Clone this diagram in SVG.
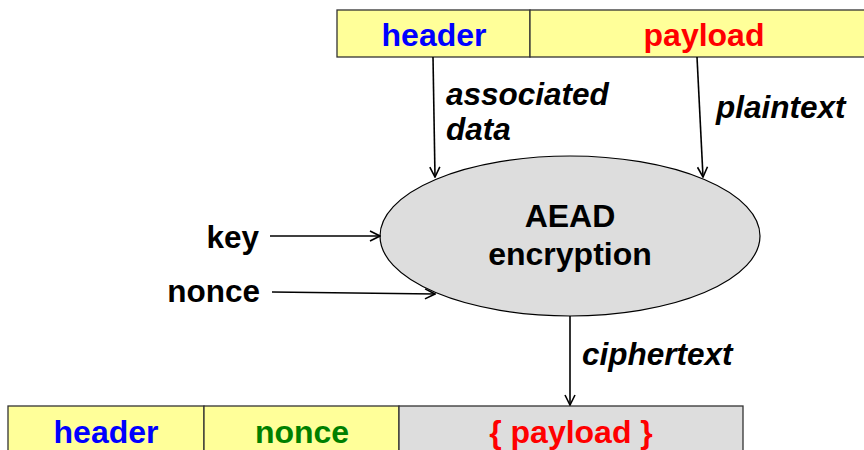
<svg xmlns="http://www.w3.org/2000/svg" width="864" height="450" viewBox="0 0 864 450">
<defs>
<marker id="ah" viewBox="0 0 12 12" refX="11" refY="6" markerWidth="12" markerHeight="12" markerUnits="userSpaceOnUse" orient="auto">
<path d="M1,1 L11,6 L1,11" fill="none" stroke="#000" stroke-width="1.6"/>
</marker>
<style>
text{font-family:"Liberation Sans",Arial,sans-serif;font-weight:bold}
.box{stroke:#333;stroke-width:1.3}
.y{fill:#FFFF99}
.g{fill:#DDDDDD}
.c{text-anchor:middle;font-size:32px}
.lbl{font-style:italic;font-size:31.5px;fill:#000}
.in{font-size:31.5px;fill:#000;text-anchor:end}
.conn{stroke:#000;stroke-width:1.6;fill:none;marker-end:url(#ah)}
</style>
</defs>
<g id="top-packet">
<rect class="box y" x="337" y="10" width="193" height="47"/>
<rect class="box y" x="530" y="10" width="340" height="47"/>
<text class="c" x="434" y="46" fill="#0000FF">header</text>
<text class="c" x="704" y="46" fill="#FF0000">payload</text>
</g>
<g id="aead">
<ellipse cx="570" cy="236" rx="190" ry="80" fill="#DDDDDD" stroke="#000" stroke-width="1.2"/>
<text class="c" x="570" y="227" fill="#000">AEAD</text>
<text class="c" x="570" y="265" fill="#000">encryption</text>
</g>
<g id="key"><text class="in" x="259" y="248">key</text></g>
<g id="nonce-in"><text class="in" x="260" y="302">nonce</text></g>
<g id="bottom-packet">
<rect class="box y" x="8" y="406" width="196" height="50"/>
<rect class="box y" x="204" y="406" width="195" height="50"/>
<rect class="box g" x="399" y="406" width="344" height="50"/>
<text class="c" x="106" y="443" fill="#0000FF">header</text>
<text class="c" x="302" y="443" fill="#008000">nonce</text>
<text class="c" x="571" y="443" fill="#FF0000">{ payload }</text>
</g>
<g id="connectors">
<line class="conn" x1="433" y1="57" x2="435" y2="177"/>
<line class="conn" x1="697" y1="57" x2="703" y2="177"/>
<line class="conn" x1="270" y1="236" x2="380" y2="236"/>
<line class="conn" x1="272" y1="292" x2="435" y2="294"/>
<line class="conn" x1="570" y1="316" x2="570" y2="405"/>
<text class="lbl" x="446" y="105">associated</text>
<text class="lbl" x="446" y="140">data</text>
<text class="lbl" x="716" y="118">plaintext</text>
<text class="lbl" x="582" y="365">ciphertext</text>
</g>
</svg>
